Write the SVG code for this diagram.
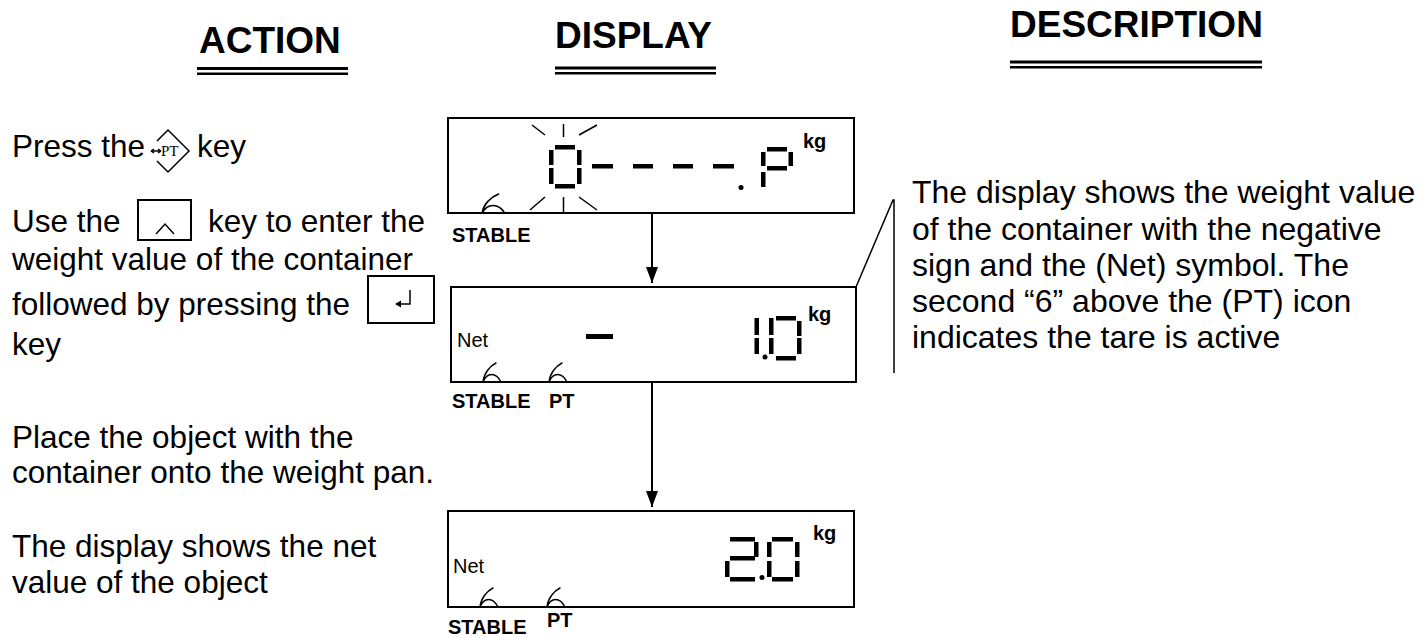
<svg xmlns="http://www.w3.org/2000/svg" width="1423" height="638" viewBox="0 0 1423 638">
<style>
.hdr{font-family:"Liberation Sans",Arial,sans-serif;font-weight:bold;font-size:37px;fill:#000}
.txt{font-family:"Liberation Sans",Arial,sans-serif;font-size:31.5px;fill:#000}
.dsc{font-family:"Liberation Sans",Arial,sans-serif;font-size:32px;fill:#000}
.lbl{font-family:"Liberation Sans",Arial,sans-serif;font-weight:bold;font-size:20px;fill:#000}
.net{font-family:"Liberation Sans",Arial,sans-serif;font-size:20px;fill:#000}
.box{fill:#fff;stroke:#000;stroke-width:2}
.seg{fill:#000}
.thin{fill:none;stroke:#000;stroke-width:1.5}
.six{fill:none;stroke:#000;stroke-width:1.4;stroke-linecap:round}
.conn{fill:none;stroke:#000;stroke-width:2}
</style>
<defs>
<marker id="ah" markerUnits="userSpaceOnUse" markerWidth="12" markerHeight="16" viewBox="0 0 12 16" refX="6" refY="16" orient="0">
<path d="M0,0 L12,0 L6,16 z" fill="#000"/>
</marker>
<path id="sixp" d="M14,0 C8,3 2,10 1,19 M1,19 C5,9 14,9 19,19"/>
</defs>
<rect width="1423" height="638" fill="#fff"/>

<g id="headers">
<text class="hdr" x="199" y="53">ACTION</text>
<rect x="197" y="67" width="151" height="3"/>
<rect x="197" y="72.5" width="151" height="2.5"/>
<text class="hdr" x="555" y="48">DISPLAY</text>
<rect x="555" y="66.5" width="161" height="3"/>
<rect x="555" y="72" width="161" height="2.5"/>
<text class="hdr" x="1010" y="37">DESCRIPTION</text>
<rect x="1010" y="60.5" width="252" height="3"/>
<rect x="1010" y="66" width="252" height="2.5"/>
</g>

<g id="action-1">
<text class="txt" x="12" y="157">Press the</text>
<path class="thin" d="M151,151 L161,151 M151,151 l3,-2 M151,151 l3,2 M161,151 l-3,-2 M161,151 l-3,2"/>
<text x="161" y="156" style="font-family:'Liberation Serif','Times New Roman',serif;font-size:15px">PT</text>
<path class="thin" d="M157,141 L168,130 L189,151 L168,172 L157,161"/>
<text class="txt" x="197" y="157">key</text>
</g>

<g id="action-2">
<text class="txt" x="12" y="232">Use the</text>
<rect class="box" x="138" y="200" width="53" height="40"/>
<path class="thin" d="M156,234 L165,224 L174,234"/>
<text class="txt" x="208" y="232">key to enter the</text>
<text class="txt" x="12" y="270">weight value of the container</text>
<text class="txt" x="12" y="315">followed by pressing the</text>
<rect class="box" x="368" y="276" width="66" height="47"/>
<path class="thin" d="M410,290 L410,304 L396,304"/>
<path d="M395,304 L401,300.5 L401,307.5 z" fill="#000"/>
<text class="txt" x="12" y="355">key</text>
</g>

<g id="action-3">
<text class="txt" x="12" y="448">Place the object with the</text>
<text class="txt" x="12" y="483">container onto the weight pan.</text>
</g>

<g id="action-4">
<text class="txt" x="12" y="557">The display shows the net</text>
<text class="txt" x="12" y="593">value of the object</text>
</g>

<g id="display-1">
<rect class="box" x="448" y="118" width="406" height="95"/>
<rect class="seg" x="555" y="145" width="20" height="4.5"/>
<rect class="seg" x="549" y="150" width="4.5" height="15"/>
<rect class="seg" x="549" y="168" width="4.5" height="16"/>
<rect class="seg" x="577" y="150" width="4.5" height="15"/>
<rect class="seg" x="577" y="168" width="4.5" height="16"/>
<rect class="seg" x="555" y="184" width="20" height="4.5"/>
<path class="thin" d="M532,125 L545,135 M563.5,124 L563.5,137 M579,135 L597,125 M530,210 L545,197 M563.5,197 L563.5,213 M579,197 L597,210"/>
<rect class="seg" x="592" y="164" width="21" height="4.5"/>
<rect class="seg" x="633" y="164" width="20" height="4.5"/>
<rect class="seg" x="673" y="164" width="20" height="4.5"/>
<rect class="seg" x="713" y="164" width="21" height="4.5"/>
<circle cx="741" cy="187.5" r="2.5"/>
<rect class="seg" x="767" y="147" width="20" height="4.5"/>
<rect class="seg" x="761" y="152" width="4.5" height="14"/>
<rect class="seg" x="788.5" y="152" width="4.5" height="14"/>
<rect class="seg" x="767" y="166" width="20" height="4.5"/>
<rect class="seg" x="761" y="172" width="4.5" height="15"/>
<text class="lbl" x="803" y="148">kg</text>
<use href="#sixp" class="six" transform="translate(481,194) scale(1.25,1)"/>
<text class="lbl" x="452" y="242">STABLE</text>
</g>

<g id="display-2">
<rect class="box" x="451" y="287" width="405" height="95"/>
<text class="net" x="457" y="347">Net</text>
<rect class="seg" x="586" y="334" width="27" height="5"/>
<rect class="seg" x="754.5" y="318" width="4.5" height="17"/>
<rect class="seg" x="754.5" y="338" width="4.5" height="16"/>
<circle cx="765" cy="357" r="2.5"/>
<rect class="seg" x="776" y="316" width="20" height="4.5"/>
<rect class="seg" x="769" y="318" width="4.5" height="17"/>
<rect class="seg" x="769" y="338" width="4.5" height="16"/>
<rect class="seg" x="797" y="321" width="4.5" height="15"/>
<rect class="seg" x="797" y="338" width="4.5" height="16"/>
<rect class="seg" x="776" y="356" width="20" height="4.5"/>
<text class="lbl" x="808" y="321">kg</text>
<use href="#sixp" class="six" transform="translate(482,363)"/>
<use href="#sixp" class="six" transform="translate(548,363)"/>
<text class="lbl" x="452" y="408">STABLE</text>
<text class="lbl" x="549" y="408">PT</text>
</g>

<g id="display-3">
<rect class="box" x="448" y="511" width="406" height="96"/>
<text class="net" x="453" y="573">Net</text>
<rect class="seg" x="730" y="537" width="25" height="4.5"/>
<rect class="seg" x="754" y="542" width="4.5" height="15"/>
<rect class="seg" x="730" y="556" width="25" height="4.5"/>
<rect class="seg" x="725" y="561" width="4.5" height="16"/>
<rect class="seg" x="730" y="577" width="25" height="4.5"/>
<circle cx="762" cy="577.5" r="2.5"/>
<rect class="seg" x="772" y="537" width="21" height="4.5"/>
<rect class="seg" x="767" y="542" width="4.5" height="15"/>
<rect class="seg" x="767" y="561" width="4.5" height="16"/>
<rect class="seg" x="795" y="542" width="4.5" height="15"/>
<rect class="seg" x="795" y="561" width="4.5" height="16"/>
<rect class="seg" x="772" y="577" width="21" height="4.5"/>
<text class="lbl" x="813" y="540">kg</text>
<use href="#sixp" class="six" transform="translate(479,588)"/>
<use href="#sixp" class="six" transform="translate(546,588)"/>
<text class="lbl" x="448" y="634">STABLE</text>
<text class="lbl" x="547" y="627">PT</text>
</g>

<g id="description">
<text class="dsc" x="912" y="203">The display shows the weight value</text>
<text class="dsc" x="912" y="240">of the container with the negative</text>
<text class="dsc" x="912" y="276">sign and the (Net) symbol. The</text>
<text class="dsc" x="912" y="312">second “6” above the (PT) icon</text>
<text class="dsc" x="912" y="348">indicates the tare is active</text>
</g>

<g id="connectors">
<line class="conn" x1="652" y1="214" x2="652" y2="283" marker-end="url(#ah)"/>
<line class="conn" x1="652" y1="383" x2="652" y2="507" marker-end="url(#ah)"/>
<polyline class="thin" points="856,287 893,200 894,200 894,373"/>
</g>
</svg>
